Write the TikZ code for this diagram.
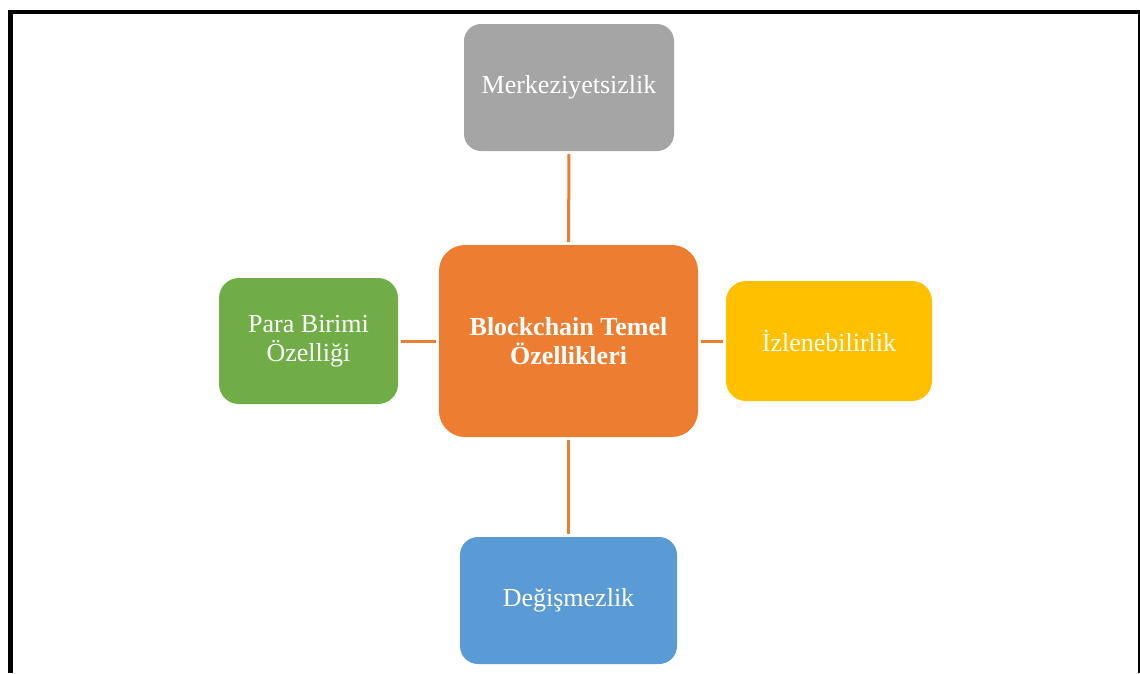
\documentclass[tikz,border=0pt]{standalone}
\usepackage{fontspec}
\setmainfont{Liberation Serif}
\definecolor{cgray}{HTML}{A5A5A5}
\definecolor{corange}{HTML}{ED7D31}
\definecolor{cgreen}{HTML}{70AD47}
\definecolor{cyellow}{HTML}{FFC000}
\definecolor{cblue}{HTML}{5B9BD5}
\begin{document}
\begin{tikzpicture}[x=1pt,y=-1pt,
  box/.style={fill=#1, draw=none, text=white, align=center, inner sep=0pt,
    font=\fontsize{26}{29}\selectfont},
  link/.style={draw=corange, line width=3pt, shorten <=3pt, shorten >=3pt},
  frame/.style={draw=black}]
\useasboundingbox (0,0) rectangle (1140,673);
% outer frame, open at the bottom
\draw[frame, line width=4.5pt] (10.5,673) -- (10.5,12);
\draw[frame, line width=4pt] (8.25,12) -- (1140,12);
\draw[frame, line width=2.2pt] (1138.9,12) -- (1138.9,673);
% central node and the four features
\node[box=corange, rounded corners=26pt, minimum width=259pt, minimum height=192pt,
  font=\fontsize{26}{29}\selectfont\bfseries] (core) at (568.5,341) {Blockchain Temel\\Özellikleri};
\node[box=cgray, rounded corners=17pt, minimum width=210pt, minimum height=127pt] (top) at (569,87.5) {Merkeziyetsizlik};
\node[box=cgreen, rounded corners=20pt, minimum width=179pt, minimum height=126pt] (left) at (308.5,341) {Para Birimi\\Özelliği};
\node[box=cyellow, rounded corners=20pt, minimum width=206pt, minimum height=120pt] (right) at (829,341) {İzlenebilirlik};
\node[box=cblue, rounded corners=18pt, minimum width=217pt, minimum height=127pt] (bottom) at (568.5,600.5) {Değişmezlik};
% connectors
\draw[link] (core.north) -- (top.south);
\draw[link] (core.south) -- (bottom.north);
\draw[link] (core.west) -- (core.west -| left.east);
\draw[link] (core.east) -- (core.east -| right.west);
\end{tikzpicture}
\end{document}
